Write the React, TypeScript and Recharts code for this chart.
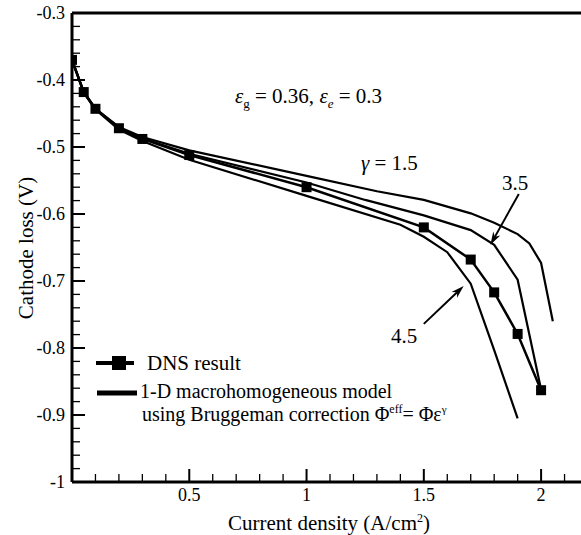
import { Line, LineChart, ReferenceLine, XAxis, YAxis } from "recharts";

const FONT = "Liberation Serif, Times New Roman, serif";
const serif = { fontFamily: FONT };

// DNS result (squares)
const dnsX = [0, 0.05, 0.1, 0.2, 0.3, 0.5, 1.0, 1.5, 1.7, 1.8, 1.9, 2.0];
const dnsY = [-0.37, -0.418, -0.443, -0.472, -0.488, -0.512, -0.56, -0.62, -0.668, -0.717, -0.779, -0.863];

// 1-D model, gamma = 1.5
const g15X = [0, 0.05, 0.1, 0.2, 0.3, 0.5, 1.0, 1.3, 1.5, 1.7, 1.8, 1.9, 1.95, 2.0, 2.05];
const g15Y = [-0.37, -0.418, -0.443, -0.47, -0.485, -0.505, -0.543, -0.566, -0.579, -0.599, -0.613, -0.63, -0.644, -0.673, -0.76];

// gamma = 3.5
const g35X = [0, 0.05, 0.1, 0.2, 0.3, 0.5, 1.0, 1.25, 1.5, 1.7, 1.8, 1.9, 2.0];
const g35Y = [-0.37, -0.418, -0.443, -0.471, -0.487, -0.51, -0.553, -0.579, -0.602, -0.624, -0.646, -0.698, -0.862];

// gamma = 4.5
const g45X = [0, 0.05, 0.1, 0.2, 0.3, 0.5, 1.0, 1.4, 1.5, 1.6, 1.7, 1.8, 1.9];
const g45Y = [-0.37, -0.419, -0.444, -0.474, -0.491, -0.519, -0.573, -0.616, -0.634, -0.657, -0.704, -0.803, -0.905];

const xTicks = [0, 0.1, 0.2, 0.3, 0.4, 0.5, 0.6, 0.7, 0.8, 0.9, 1, 1.1, 1.2, 1.3, 1.4, 1.5, 1.6, 1.7, 1.8, 1.9, 2, 2.1, 2.2];
const xMajor = [0.5, 1, 1.5, 2];
const xLabels = ["0.5", "1", "1.5", "2"];

const yMajor = [-1, -0.9, -0.8, -0.7, -0.6, -0.5, -0.4, -0.3];
const yLabels = ["-1", "-0.9", "-0.8", "-0.7", "-0.6", "-0.5", "-0.4", "-0.3"];
const yTicks = Array.from({ length: 36 }, (_, i) => Math.round((-1 + i * 0.02) * 100) / 100);

const toPoints = (xs: number[], ys: number[]) => xs.map((x, i) => ({ x, y: ys[i] }));

const dnsData = toPoints(dnsX, dnsY);
const g15Data = toPoints(g15X, g15Y);
const g35Data = toPoints(g35X, g35Y);
const g45Data = toPoints(g45X, g45Y);

// annotation arrows, in data units
const arrow35 = [{ x: 1.905, y: -0.57 }, { x: 1.784, y: -0.646 }];
const arrow45 = [{ x: 1.5, y: -0.764 }, { x: 1.67, y: -0.7074 }];

const findIdx = (arr: number[], v: number) => arr.findIndex((a) => Math.abs(a - v) < 1e-6);

function XTick(props: any) {
  const { x, y, payload } = props;
  const i = findIdx(xMajor, payload.value);
  const major = i >= 0;
  return (
    <g>
      <line x1={x} x2={x} y1={y} y2={y - (major ? 13 : 8)} stroke="#000" strokeWidth={major ? 2 : 1.3} />
      {major && (
        <text x={x} y={y + 19} textAnchor="middle" fontSize={18} style={serif} fill="#000">
          {xLabels[i]}
        </text>
      )}
    </g>
  );
}

function YTick(props: any) {
  const { x, y, payload } = props;
  const i = findIdx(yMajor, payload.value);
  const major = i >= 0;
  return (
    <g>
      <line x1={x} x2={x + (major ? 13 : 8)} y1={y} y2={y} stroke="#000" strokeWidth={major ? 2 : 1.3} />
      {major && (
        <text x={x - 7} y={y + 6} textAnchor="end" fontSize={18} style={serif} fill="#000">
          {yLabels[i]}
        </text>
      )}
    </g>
  );
}

function SquareDot(props: any) {
  const { cx, cy } = props;
  if (cx == null || cy == null) return null;
  return <rect x={cx - 5} y={cy - 5} width={10} height={10} fill="#000" />;
}

function Arrow(props: any) {
  const { x1, y1, x2, y2 } = props;
  const ang = Math.atan2(y2 - y1, x2 - x1);
  const len = 13;
  const half = 4;
  const bx = x2 - len * Math.cos(ang);
  const by = y2 - len * Math.sin(ang);
  const nx = -Math.sin(ang);
  const ny = Math.cos(ang);
  const ix = x2 - len * 0.7 * Math.cos(ang);
  const iy = y2 - len * 0.7 * Math.sin(ang);
  return (
    <g>
      <line x1={x1} y1={y1} x2={ix} y2={iy} stroke="#000" strokeWidth={2} />
      <path
        d={`M${x2},${y2} L${bx + nx * half},${by + ny * half} L${ix},${iy} L${bx - nx * half},${by - ny * half} Z`}
        fill="#000"
      />
    </g>
  );
}

export default function App() {
  return (
    <div
      style={{
        position: "absolute",
        left: 0,
        top: 0,
        width: 581,
        height: 535,
        overflow: "hidden",
        background: "#fff",
      }}
    >
      <LineChart width={600} height={535} margin={{ top: 13, right: 12, bottom: 23, left: 12 }}>
        <XAxis
          type="number"
          dataKey="x"
          domain={[0, 2.2]}
          ticks={xTicks}
          interval={0}
          tick={<XTick />}
          tickSize={0}
          tickMargin={0}
          tickLine={false}
          axisLine={{ stroke: "#000", strokeWidth: 3 }}
          height={30}
          allowDataOverflow
        />
        <YAxis
          type="number"
          dataKey="y"
          domain={[-1, -0.3]}
          ticks={yTicks}
          interval={0}
          tick={<YTick />}
          tickSize={0}
          tickMargin={0}
          tickLine={false}
          axisLine={{ stroke: "#000", strokeWidth: 3 }}
          width={60}
          allowDataOverflow
        />
        <ReferenceLine y={-0.3} stroke="#000" strokeWidth={3} />
        <ReferenceLine segment={arrow35} shape={<Arrow />} ifOverflow="visible" />
        <ReferenceLine segment={arrow45} shape={<Arrow />} ifOverflow="visible" />
        <Line data={g15Data} dataKey="y" type="linear" stroke="#000" strokeWidth={2.2} dot={false} isAnimationActive={false} />
        <Line data={g35Data} dataKey="y" type="linear" stroke="#000" strokeWidth={2.2} dot={false} isAnimationActive={false} />
        <Line data={g45Data} dataKey="y" type="linear" stroke="#000" strokeWidth={2.2} dot={false} isAnimationActive={false} />
        <Line
          data={dnsData}
          dataKey="y"
          type="linear"
          stroke="#000"
          strokeWidth={2.5}
          dot={<SquareDot />}
          isAnimationActive={false}
        />
      </LineChart>
      <svg
        width={581}
        height={535}
        style={{ position: "absolute", left: 0, top: 0, pointerEvents: "none", fontFamily: FONT }}
        fill="#000"
      >
        <text x={235} y={103} fontSize={21} style={serif}>
          <tspan fontStyle="italic">ε</tspan>
          <tspan fontSize={13} dy={5}>g</tspan>
          <tspan dy={-5}> = 0.36, </tspan>
          <tspan fontStyle="italic">ε</tspan>
          <tspan fontSize={13} fontStyle="italic" dy={5}>e</tspan>
          <tspan dy={-5}> = 0.3</tspan>
        </text>
        <text x={361} y={170} fontSize={21} style={serif}>
          <tspan fontStyle="italic">γ</tspan>
          <tspan> = 1.5</tspan>
        </text>
        <text x={515} y={190} fontSize={21} textAnchor="middle" style={serif}>3.5</text>
        <text x={404} y={343} fontSize={21} textAnchor="middle" style={serif}>4.5</text>

        {/* legend */}
        <line x1={96} x2={134} y1={363} y2={363} stroke="#000" strokeWidth={4} />
        <rect x={112} y={356} width={14} height={14} fill="#000" />
        <text x={147} y={370} fontSize={21} style={serif}>DNS result</text>
        <line x1={97} x2={137} y1={393} y2={393} stroke="#000" strokeWidth={5} />
        <text x={140} y={398} fontSize={20} style={serif}>1-D macrohomogeneous model</text>
        <text x={142} y={421} fontSize={20} style={serif}>
          <tspan>using Bruggeman correction Φ</tspan>
          <tspan fontSize={12} dy={-8}>eff</tspan>
          <tspan dy={8}>= Φε</tspan>
          <tspan fontSize={11} dy={-8}>γ</tspan>
        </text>

        {/* axis titles */}
        <text x={329} y={530} fontSize={21} textAnchor="middle" style={serif}>
          <tspan>Current density (A/cm</tspan>
          <tspan fontSize={12} dy={-8}>2</tspan>
          <tspan dy={8}>)</tspan>
        </text>
        <text x={33} y={248} fontSize={21} textAnchor="middle" transform="rotate(-90 33 248)" style={serif}>
          Cathode loss (V)
        </text>
      </svg>
    </div>
  );
}
